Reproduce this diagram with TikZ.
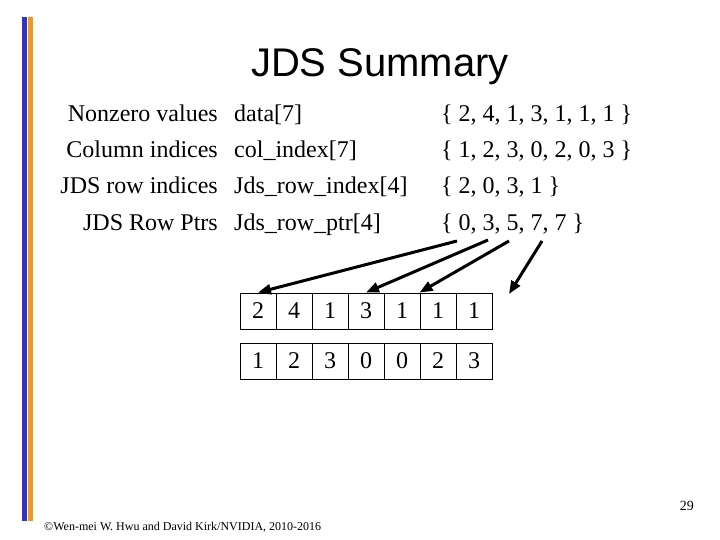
\documentclass[tikz,border=0pt]{standalone}
\usepackage{fontspec}
\setmainfont{Liberation Serif}
\newfontfamily\titlefont{Liberation Sans}
\usetikzlibrary{arrows.meta}
\definecolor{barblue}{RGB}{51,51,187}
\definecolor{barorange}{RGB}{238,153,34}
\begin{document}
\begin{tikzpicture}[x=1pt,y=-1pt,
  lbl/.style={inner sep=0pt,font=\fontsize{24}{28}\selectfont},
  cell/.style={draw,line width=0.9pt,minimum width=36pt,minimum height=36pt,inner sep=0pt,font=\fontsize{24}{28}\selectfont},
  ptr/.style={line width=3pt,-{Triangle[length=13pt,width=10pt]}}]
\useasboundingbox (0,0) rectangle (720,540);
\fill[white] (0,0) rectangle (720,540);
\fill[barblue] (22,17) rectangle (27,521);
\fill[barorange] (28,17) rectangle (33,521);
\node[inner sep=0pt,anchor=base,font=\titlefont\fontsize{40}{44}\selectfont] (title) at (380,77) {JDS Summary};
% labels
\node[lbl,anchor=base east] (l1) at (218,122) {Nonzero values};
\node[lbl,anchor=base east] (l2) at (218,158) {Column indices};
\node[lbl,anchor=base east] (l3) at (218,194) {JDS row indices};
\node[lbl,anchor=base east] (l4) at (218,230) {JDS Row Ptrs};
\node[lbl,anchor=base west] (n1) at (234,122) {data[7]};
\node[lbl,anchor=base west] (n2) at (234,158) {col\_index[7]};
\node[lbl,anchor=base west] (n3) at (234,194) {Jds\_row\_index[4]};
\node[lbl,anchor=base west] (n4) at (234,230) {Jds\_row\_ptr[4]};
\node[lbl,anchor=base west] (v1) at (441,122) {\{ 2, 4, 1, 3, 1, 1, 1 \}};
\node[lbl,anchor=base west] (v2) at (441,158) {\{ 1, 2, 3, 0, 2, 0, 3 \}};
\node[lbl,anchor=base west] (v3) at (441,194) {\{ 2, 0, 3, 1 \}};
\node[lbl,anchor=base west] (v4) at (441,230) {\{ 0, 3, 5, 7, 7 \}};
% cells
\foreach \v [count=\i from 0] in {2,4,1,3,1,1,1}
  \node[cell] (a\i) at (258+36*\i,311) {\v};
\foreach \v [count=\i from 0] in {1,2,3,0,0,2,3}
  \node[cell] (b\i) at (258+36*\i,361) {\v};
% arrows
\coordinate (s1) at (457,241);
\coordinate (s2) at (488,240);
\coordinate (s3) at (509,241);
\coordinate (s4) at (542,241);
\coordinate (t4) at (509,294);
\draw[ptr] (s1) -- (a0.north);
\draw[ptr] (s2) -- (a3.north);
\draw[ptr] (s3) -- (a5.north west);
\draw[ptr] (s4) -- (t4);
% footer
\node[inner sep=0pt,anchor=base west,font=\fontsize{12}{14}\selectfont] (foot) at (44,530) {©Wen-mei W. Hwu and David Kirk/NVIDIA, 2010-2016};
\node[inner sep=0pt,anchor=base east,font=\fontsize{14}{16}\selectfont] (page) at (694,510) {29};
\end{tikzpicture}
\end{document}
